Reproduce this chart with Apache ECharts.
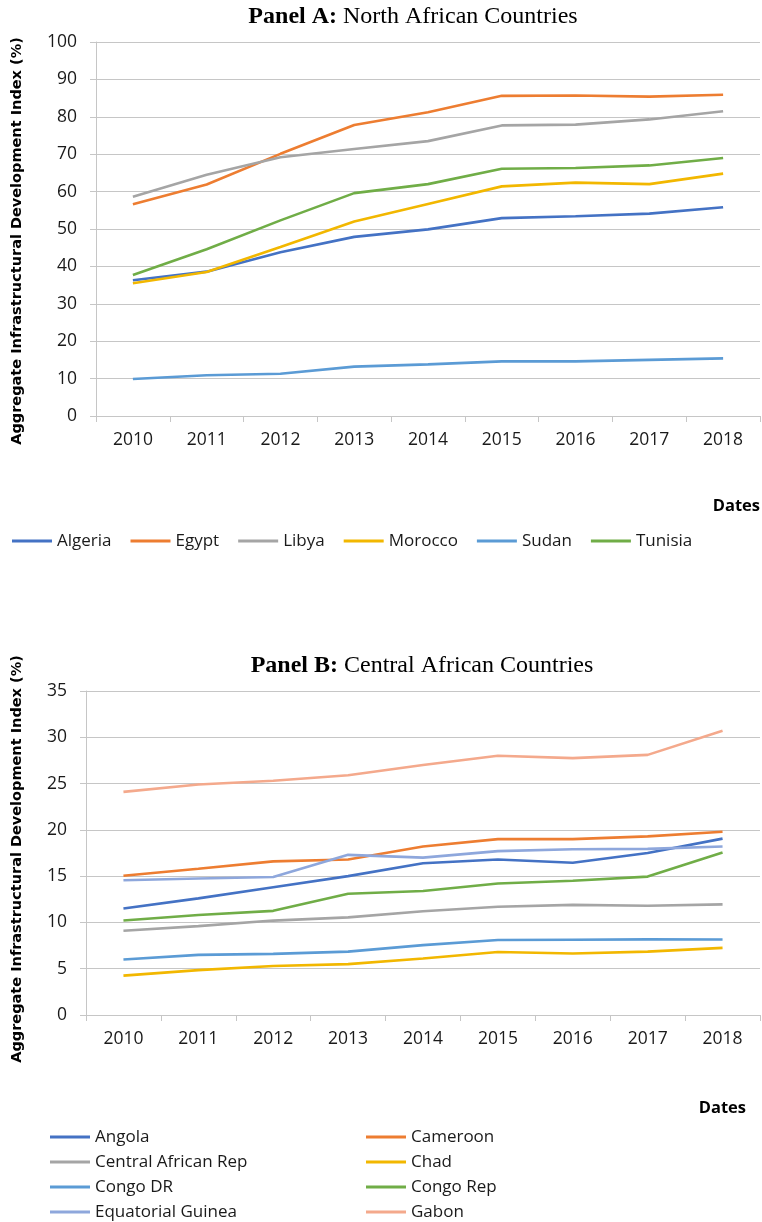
<!DOCTYPE html>
<html>
<head>
<meta charset="utf-8">
<script src="https://cdn.jsdelivr.net/npm/echarts@6/dist/echarts.min.js"></script>
<style>html,body{margin:0;padding:0;background:#fff}#c{width:762px;height:1222px}</style>
</head>
<body>
<div id="c"></div>
<script>
const years = ['2010','2011','2012','2013','2014','2015','2016','2017','2018'];

// Panel A: North African Countries
const algeria  = [36.3, 38.6, 43.8, 47.9, 49.9, 52.9, 53.4, 54.1, 55.8];
const egypt    = [56.6, 61.9, 70.1, 77.8, 81.2, 85.6, 85.7, 85.4, 85.9];
const libya    = [58.6, 64.5, 69.2, 71.4, 73.5, 77.7, 77.9, 79.3, 81.5];
const morocco  = [35.5, 38.5, 45.2, 52.0, 56.7, 61.4, 62.4, 62.0, 64.8];
const sudan    = [9.9, 10.9, 11.3, 13.2, 13.8, 14.6, 14.6, 15.0, 15.4];
const tunisia  = [37.7, 44.6, 52.3, 59.6, 62.0, 66.1, 66.3, 67.0, 69.0];

// Panel B: Central African Countries
const angola    = [11.5, 12.6, 13.8, 15.0, 16.4, 16.8, 16.45, 17.5, 19.05];
const cameroon  = [15.05, 15.8, 16.6, 16.8, 18.2, 19.0, 19.0, 19.3, 19.8];
const car       = [9.1, 9.6, 10.2, 10.55, 11.2, 11.7, 11.9, 11.8, 11.95];
const chad      = [4.25, 4.85, 5.3, 5.5, 6.1, 6.8, 6.65, 6.85, 7.25];
const congoDR   = [6.0, 6.5, 6.6, 6.85, 7.55, 8.1, 8.13, 8.17, 8.15];
const congoRep  = [10.2, 10.8, 11.25, 13.1, 13.4, 14.2, 14.5, 14.95, 17.55];
const eqGuinea  = [14.55, 14.75, 14.9, 17.3, 17.0, 17.7, 17.9, 17.95, 18.2];
const gabon     = [24.1, 24.9, 25.3, 25.9, 27.0, 28.0, 27.75, 28.1, 30.7];

const yTicksA = {min: 0, max: 100, interval: 10};
const yTicksB = {min: 0, max: 35, interval: 5};

const C = {
  blue:'#4472C4', orange:'#ED7D31', gray:'#A5A5A5', gold:'#F2B700',
  lblue:'#5B9BD5', green:'#70AD47', pblue:'#8EA7DC', salmon:'#F4A98C'
};

const seriesA = [
  ['Algeria', algeria, C.blue], ['Egypt', egypt, C.orange], ['Libya', libya, C.gray],
  ['Morocco', morocco, C.gold], ['Sudan', sudan, C.lblue], ['Tunisia', tunisia, C.green]
];
const seriesB = [
  ['Angola', angola, C.blue], ['Cameroon', cameroon, C.orange], ['Central African Rep', car, C.gray],
  ['Chad', chad, C.gold], ['Congo DR', congoDR, C.lblue], ['Congo Rep', congoRep, C.green],
  ['Equatorial Guinea', eqGuinea, C.pblue], ['Gabon', gabon, C.salmon]
];
const legendLeftB  = ['Angola','Central African Rep','Congo DR','Equatorial Guinea'];
const legendRightB = ['Cameroon','Chad','Congo Rep','Gabon'];

const labelFont = {fontFamily:'Open Sans', fontSize:17.5, color:'#1a1a1a'};
const gridColor = '#C6C6C6';

function xAxis(gi){
  return {
    type:'category', gridIndex:gi, data:years, boundaryGap:true,
    axisLine:{show:true, lineStyle:{color:gridColor, width:1}},
    axisTick:{show:true, inside:false, length:6, lineStyle:{color:gridColor}},
    axisLabel:Object.assign({margin:15, interval:0}, labelFont),
    splitLine:{show:false}
  };
}
function yAxis(gi, t){
  return {
    type:'value', gridIndex:gi, min:t.min, max:t.max, interval:t.interval,
    axisLine:{show:true, lineStyle:{color:gridColor, width:1}},
    axisTick:{show:true, inside:false, length:6, lineStyle:{color:gridColor}},
    axisLabel:Object.assign({margin:19}, labelFont),
    splitLine:{show:true, lineStyle:{color:gridColor, width:1}}
  };
}
function mk(list, gi){
  return list.map(([name, data, color]) => ({
    name, type:'line', xAxisIndex:gi, yAxisIndex:gi, data,
    symbol:'none', smooth:false, animation:false,
    lineStyle:{color, width:2.6}, itemStyle:{color}
  }));
}

const legendText = {fontFamily:'Open Sans', fontSize:17, color:'#1a1a1a', lineHeight:20};
const icon = 'path://M0,0L40,0L40,3L0,3Z';
const serif = 'Liberation Serif';
const titleRich = {
  b:{fontFamily:serif, fontWeight:'bold', fontSize:24, color:'#000'},
  r:{fontFamily:serif, fontWeight:'normal', fontSize:24, color:'#000'}
};
const yName = 'Aggregate Infrastructural Development Index (%)';
const yNameFont = 'bold 14.5px "DejaVu Sans"';

const option = {
  animation:false,
  backgroundColor:'#fff',
  title:[
    {text:'{b|Panel A:}{r| North African Countries}', left:413, top:5, textAlign:'center', padding:0,
     textStyle:{rich:titleRich}},
    {text:'{b|Panel B:}{r| Central African Countries}', left:422, top:654, textAlign:'center', padding:0,
     textStyle:{rich:titleRich}}
  ],
  grid:[
    {left:96, right:2, top:42, height:374, containLabel:false},
    {left:86, right:2, top:691, height:324, containLabel:false}
  ],
  xAxis:[xAxis(0), xAxis(1)],
  yAxis:[yAxis(0, yTicksA), yAxis(1, yTicksB)],
  legend:[
    {data:seriesA.map(s=>s[0]), left:12, top:531, padding:0, orient:'horizontal', itemWidth:40, itemHeight:12,
     itemGap:19, textStyle:legendText, icon, selectedMode:false},
    {data:legendLeftB, left:50, top:1127, padding:0, height:110, orient:'vertical',
     itemWidth:40, itemHeight:12, itemGap:5, textStyle:legendText, icon, selectedMode:false},
    {data:legendRightB, left:366, top:1127, padding:0, height:110, orient:'vertical',
     itemWidth:40, itemHeight:12, itemGap:5, textStyle:legendText, icon, selectedMode:false}
  ],
  graphic:[
    {type:'text', x:17, y:241, rotation:Math.PI/2,
     style:{text:yName, font:yNameFont, fill:'#000', textAlign:'center', textVerticalAlign:'middle', align:'center', verticalAlign:'middle'}},
    {type:'text', x:17, y:859, rotation:Math.PI/2,
     style:{text:yName, font:yNameFont, fill:'#000', textAlign:'center', textVerticalAlign:'middle', align:'center', verticalAlign:'middle'}},
    {type:'text', x:760, y:506,
     style:{text:'Dates', font:'bold 16.5px "Open Sans"', fill:'#000', textAlign:'right', textVerticalAlign:'middle', align:'right', verticalAlign:'middle'}},
    {type:'text', x:746, y:1108,
     style:{text:'Dates', font:'bold 16.5px "Open Sans"', fill:'#000', textAlign:'right', textVerticalAlign:'middle', align:'right', verticalAlign:'middle'}}
  ],
  series:[...mk(seriesA,0), ...mk(seriesB,1)]
};

const chart = echarts.init(document.getElementById('c'), null, {renderer:'canvas'});
chart.setOption(option);
</script>
</body>
</html>
